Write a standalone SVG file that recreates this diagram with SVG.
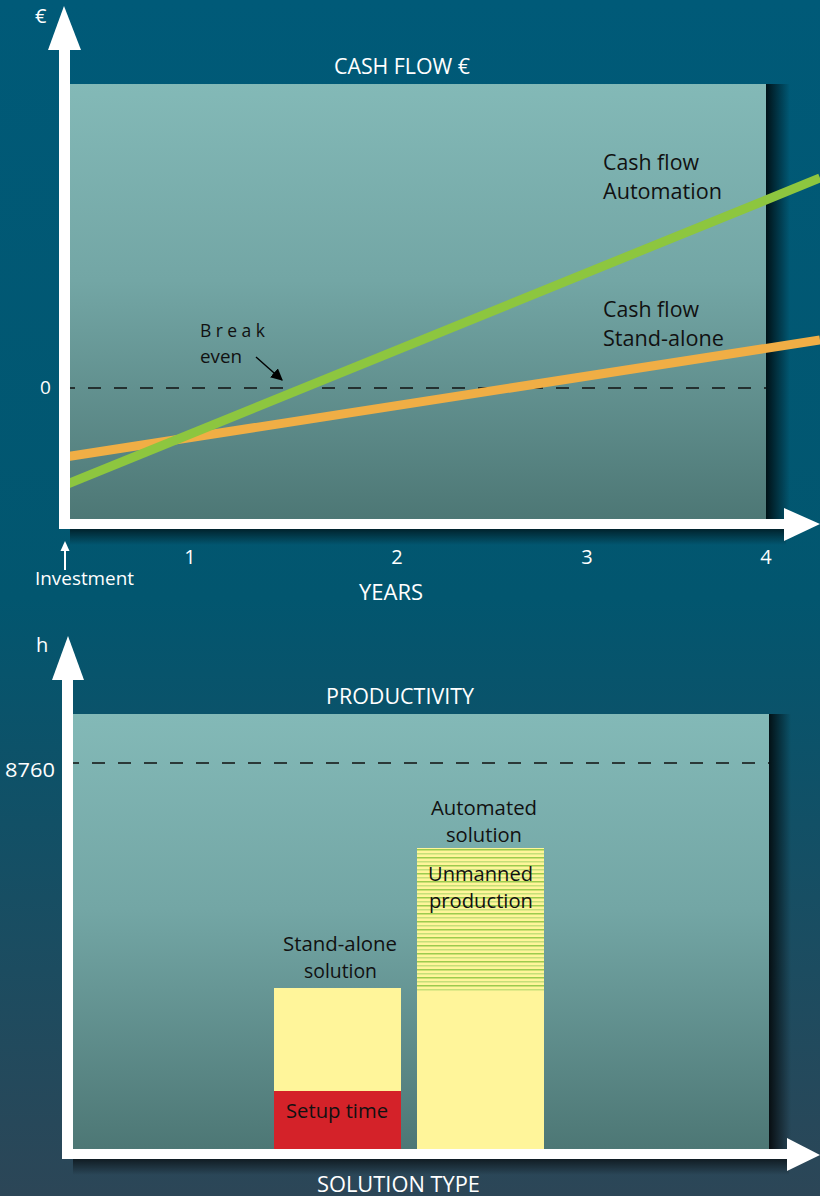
<svg xmlns="http://www.w3.org/2000/svg" width="820" height="1196" viewBox="0 0 820 1196">
<defs>
<linearGradient id="bg" x1="0" y1="0" x2="0" y2="1">
<stop offset="0" stop-color="#005a78"/>
<stop offset="0.5" stop-color="#02566f"/>
<stop offset="1" stop-color="#2c4657"/>
</linearGradient>
<linearGradient id="panel" x1="0" y1="0" x2="0" y2="1">
<stop offset="0" stop-color="#83b9b7"/>
<stop offset="0.45" stop-color="#73a6a5"/>
<stop offset="1" stop-color="#4d7775"/>
</linearGradient>
<linearGradient id="shR" x1="0" y1="0" x2="1" y2="0">
<stop offset="0" stop-color="#000" stop-opacity="0.8"/>
<stop offset="1" stop-color="#000" stop-opacity="0"/>
</linearGradient>
<linearGradient id="shB" x1="0" y1="0" x2="0" y2="1">
<stop offset="0" stop-color="#000" stop-opacity="0.6"/>
<stop offset="1" stop-color="#000" stop-opacity="0"/>
</linearGradient>
<pattern id="stripes" x="0" y="848" width="10" height="8" patternUnits="userSpaceOnUse">
<rect width="10" height="8" fill="#fff59a"/>
<rect y="1" width="10" height="1.5" fill="#9ccb4e"/>
<rect y="5" width="10" height="1.5" fill="#c6df78"/>
</pattern>
<marker id="ah" viewBox="0 0 10 10" refX="9" refY="5" markerWidth="12" markerHeight="12" markerUnits="userSpaceOnUse" orient="auto">
<path d="M0,0 L10,5 L0,10 z" fill="#000"/>
</marker>
</defs>
<style>
.w{font-family:"Open Sans","Noto Sans","Liberation Sans",sans-serif;fill:#fff}
.k{font-family:"Open Sans","Noto Sans","Liberation Sans",sans-serif;fill:#111}
.t{font-size:20px;text-anchor:middle}
.ttl{font-size:21px}
.lbl{font-size:21.5px}
.bl{font-size:20px}
.dash{stroke:#111;stroke-width:1.5;stroke-dasharray:13,13;fill:none}
.axis{fill:#fff}
</style>
<rect width="820" height="1196" fill="url(#bg)"/>

<g id="chart-cashflow">
<rect id="panel-top" x="70" y="84" width="696" height="436" fill="url(#panel)"/>
<rect x="766" y="84" width="24" height="445" fill="url(#shR)"/>
<rect x="70" y="529" width="716" height="16" fill="url(#shB)"/>
<line class="dash" x1="62" y1="388" x2="766" y2="388"/>
<g id="series">
<line id="line-standalone" x1="65" y1="457" x2="820" y2="340" stroke="#f0ae45" stroke-width="9"/>
<line id="line-automation" x1="65" y1="485" x2="820" y2="178" stroke="#8dc63f" stroke-width="9"/>
</g>
<g id="axes-top">
<rect class="axis" x="59" y="48" width="11" height="481"/>
<path class="axis" d="M64,6 L81,50 L48,50 z"/>
<rect class="axis" x="59" y="519" width="728" height="10"/>
<path class="axis" d="M784,508 L820,524 L784,541 z"/>
</g>
<text class="w ttl" x="334" y="74" textLength="136" lengthAdjust="spacingAndGlyphs">CASH FLOW €</text>
<text class="w" x="35" y="23" font-size="20">€</text>
<text class="w" x="40" y="394" font-size="19">0</text>
<text class="k lbl" x="603" y="170" textLength="96" lengthAdjust="spacingAndGlyphs">Cash flow</text>
<text class="k lbl" x="603" y="199" textLength="119" lengthAdjust="spacingAndGlyphs">Automation</text>
<text class="k lbl" x="603" y="317" textLength="96" lengthAdjust="spacingAndGlyphs">Cash flow</text>
<text class="k lbl" x="603" y="346" textLength="121" lengthAdjust="spacingAndGlyphs">Stand-alone</text>
<g id="break-even">
<text class="k" x="200" y="337" font-size="17.5" textLength="65" lengthAdjust="spacing">Break</text>
<text class="k" x="200" y="363" font-size="17.5" textLength="42" lengthAdjust="spacingAndGlyphs">even</text>
<line x1="256" y1="357" x2="282" y2="380" stroke="#000" stroke-width="1.4" marker-end="url(#ah)"/>
</g>
<text class="w t" x="190" y="564">1</text>
<text class="w t" x="397" y="564">2</text>
<text class="w t" x="587" y="564">3</text>
<text class="w t" x="766" y="564">4</text>
<g id="investment">
<line x1="65" y1="570" x2="65" y2="548" stroke="#fff" stroke-width="2"/>
<path d="M65,541 L69.5,551 L60.5,551 z" fill="#fff"/>
<text class="w" x="35" y="585" font-size="19" textLength="99" lengthAdjust="spacingAndGlyphs">Investment</text>
</g>
<text class="w ttl" x="359" y="600" textLength="64" lengthAdjust="spacingAndGlyphs">YEARS</text>
</g>

<g id="chart-productivity">
<rect id="panel-bottom" x="73" y="714" width="696" height="435" fill="url(#panel)"/>
<rect x="769" y="714" width="22" height="445" fill="url(#shR)"/>
<rect x="73" y="1159" width="716" height="16" fill="url(#shB)"/>
<line class="dash" x1="66" y1="763" x2="769" y2="763"/>
<g id="bar-standalone">
<rect x="274" y="988" width="127" height="103" fill="#fff59a"/>
<rect x="274" y="1091" width="127" height="58" fill="#d42229"/>
<text class="k bl" x="286" y="1118" textLength="102" lengthAdjust="spacingAndGlyphs">Setup time</text>
<text class="k bl" x="283" y="951" textLength="114" lengthAdjust="spacingAndGlyphs">Stand-alone</text>
<text class="k bl" x="304" y="978" textLength="73" lengthAdjust="spacingAndGlyphs">solution</text>
</g>
<g id="bar-automated">
<rect x="417" y="848" width="127" height="301" fill="#fff59a"/>
<rect x="417" y="848" width="127" height="143" fill="url(#stripes)"/>
<text class="k bl" x="428" y="881" textLength="105" lengthAdjust="spacingAndGlyphs">Unmanned</text>
<text class="k bl" x="429" y="908" textLength="104" lengthAdjust="spacingAndGlyphs">production</text>
<text class="k bl" x="431" y="815" textLength="106" lengthAdjust="spacingAndGlyphs">Automated</text>
<text class="k bl" x="446" y="842" textLength="76" lengthAdjust="spacingAndGlyphs">solution</text>
</g>
<g id="axes-bottom">
<rect class="axis" x="62" y="678" width="11" height="481"/>
<path class="axis" d="M68,636 L84,680 L52,680 z"/>
<rect class="axis" x="62" y="1149" width="726" height="10"/>
<path class="axis" d="M787,1138 L820,1155 L787,1171 z"/>
</g>
<text class="w" x="36" y="652" font-size="20">h</text>
<text class="w" x="5" y="777" font-size="20" textLength="50" lengthAdjust="spacingAndGlyphs">8760</text>
<text class="w ttl" x="326" y="704" textLength="148" lengthAdjust="spacingAndGlyphs">PRODUCTIVITY</text>
<text class="w ttl" x="317" y="1192" textLength="163" lengthAdjust="spacingAndGlyphs">SOLUTION TYPE</text>
</g>
</svg>
